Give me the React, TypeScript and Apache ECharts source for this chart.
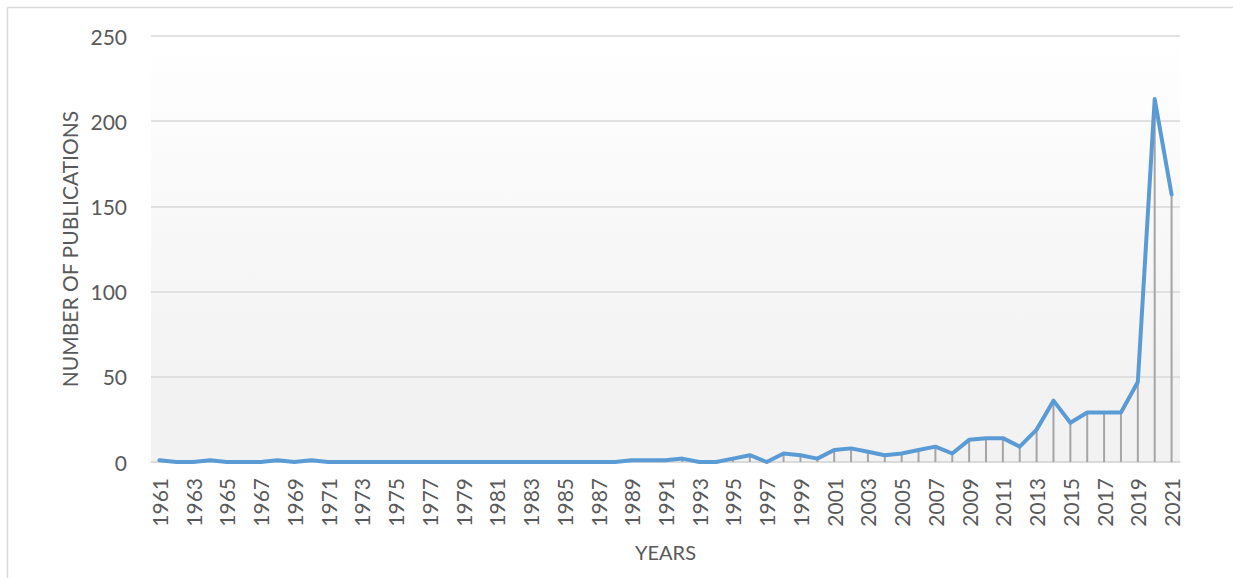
import React, { useEffect, useRef } from "react";
import * as echarts from "echarts";

const years: string[] = [];
for (let y = 1961; y <= 2021; y++) years.push(String(y));

const publications = [
  1, 0, 0, 1, 0, 0, 0, 1, 0, 1,
  0, 0, 0, 0, 0, 0, 0, 0, 0, 0,
  0, 0, 0, 0, 0, 0, 0, 0, 1, 1,
  1, 2, 0, 0, 2, 4, 0, 5, 4, 2,
  7, 8, 6, 4, 5, 7, 9, 5, 13, 14,
  14, 9, 19, 36, 23, 29, 29, 29, 47, 213,
  157,
];

const yTicks = { min: 0, max: 250, interval: 50 };

export default function App() {
  const ref = useRef<HTMLDivElement>(null);
  useEffect(() => {
    if (!ref.current) return;
    const chart = echarts.init(ref.current, undefined, { renderer: "svg" });
    const font = "Lato, 'Open Sans', sans-serif";
    chart.setOption({
      animation: false,
      backgroundColor: "#ffffff",
      graphic: [
        { type: "line", shape: { x1: 7.5, y1: 7.5, x2: 1233, y2: 7.5 }, style: { stroke: "#D9D9D9", lineWidth: 1.5 } },
        { type: "line", shape: { x1: 7.5, y1: 7.5, x2: 7.5, y2: 578 }, style: { stroke: "#D9D9D9", lineWidth: 1.5 } },
      ],
      grid: {
        left: 151,
        right: 53,
        top: 36,
        bottom: 116,
        show: true,
        borderWidth: 0,
        backgroundColor: new echarts.graphic.LinearGradient(0, 0, 0, 1, [
          { offset: 0, color: "#FFFFFF" },
          { offset: 0.82, color: "#F2F2F2" },
          { offset: 1, color: "#F2F2F2" },
        ]),
      },
      xAxis: {
        type: "category",
        data: years,
        boundaryGap: true,
        name: "YEARS",
        nameLocation: "middle",
        nameGap: 80,
        nameTextStyle: { fontFamily: font, fontSize: 20, color: "#595959" },
        axisLine: { show: true, lineStyle: { color: "#D9D9D9", width: 1.5 } },
        axisTick: { show: false },
        axisLabel: {
          rotate: 90,
          interval: 1,
          margin: 16,
          fontFamily: font,
          fontSize: 21,
          color: "#595959",
        },
      },
      yAxis: {
        type: "value",
        min: yTicks.min,
        max: yTicks.max,
        interval: yTicks.interval,
        name: "NUMBER OF PUBLICATIONS",
        nameLocation: "middle",
        nameGap: 71,
        nameTextStyle: { fontFamily: font, fontSize: 21, color: "#595959" },
        axisLine: { show: false },
        axisTick: { show: false },
        axisLabel: { margin: 24, fontFamily: font, fontSize: 21, color: "#595959" },
        splitLine: { lineStyle: { color: "#D9D9D9", width: 1.5 } },
      },
      series: [
        {
          type: "bar",
          data: publications,
          barWidth: 2,
          itemStyle: { color: "#A5A5A5" },
          z: 2,
        },
        {
          type: "line",
          data: publications,
          showSymbol: false,
          symbol: "none",
          lineStyle: { color: "#5B9BD5", width: 4, cap: "round", join: "round" },
          z: 3,
        },
      ],
    });
    return () => chart.dispose();
  }, []);
  return (
    <div
      ref={ref}
      style={{ position: "absolute", left: 0, top: 0, width: 1233, height: 578 }}
    />
  );
}
